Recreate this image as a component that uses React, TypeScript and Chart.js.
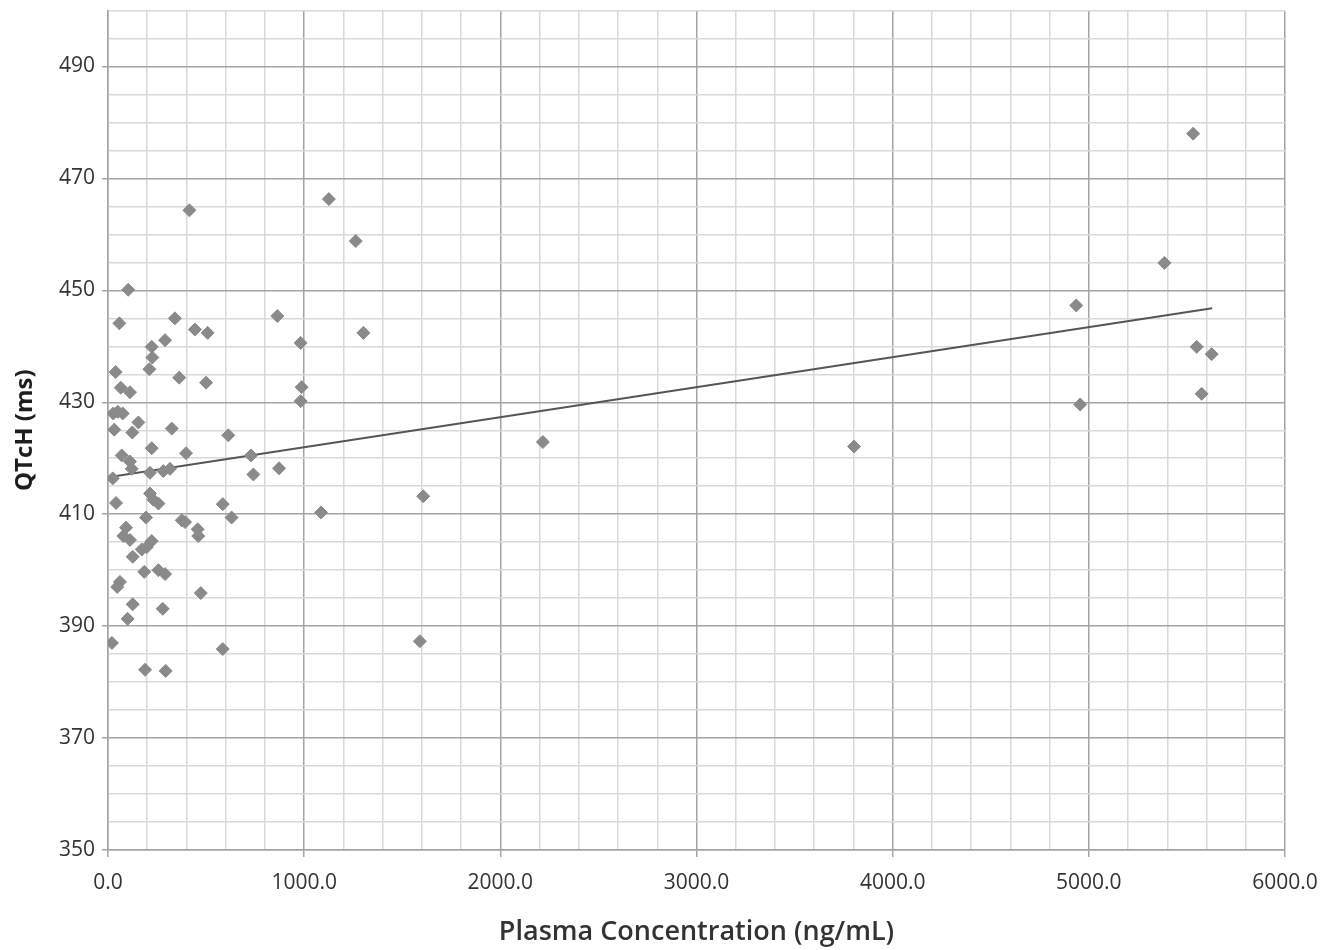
import React, { useEffect, useRef } from 'react';
import { Chart, registerables } from 'chart.js';

Chart.register(...registerables);

// Plasma concentration (ng/mL)
const concentration = [
  20, 24, 41, 32, 39, 58, 103, 341, 443, 508,
  863, 291, 223, 226, 211, 363, 500, 65, 112, 27,
  50, 75, 155, 124, 325, 613, 223, 398, 70, 112,
  121, 729, 741, 872, 214, 282, 316, 214, 231, 257,
  585, 630, 194, 376, 393, 92, 457, 460, 78, 112,
  223, 197, 172, 126, 185, 257, 291, 61, 47, 473,
  126, 279, 100, 585, 189, 294, 415, 982, 987, 982,
  1126, 1263, 1302, 1086, 1590, 1607, 2217, 3803, 5532, 5385,
  4936, 5550, 5626, 5575, 4956,
];

// QTcH (ms)
const qtch = [
  387.0, 416.4, 412.0, 425.1, 435.4, 444.1, 450.1, 445.0, 443.0, 442.4,
  445.4, 441.1, 439.9, 438.0, 435.9, 434.4, 433.5, 432.6, 431.8, 428.0,
  428.3, 428.0, 426.4, 424.6, 425.3, 424.1, 421.8, 420.9, 420.5, 419.4,
  418.1, 420.5, 417.1, 418.2, 417.4, 417.7, 418.1, 413.7, 412.6, 411.9,
  411.8, 409.4, 409.4, 408.9, 408.6, 407.6, 407.3, 406.1, 406.1, 405.4,
  405.2, 404.1, 403.7, 402.4, 399.7, 400.0, 399.3, 397.9, 397.0, 395.9,
  393.9, 393.1, 391.3, 385.9, 382.2, 382.0, 464.3, 440.6, 432.7, 430.2,
  466.3, 458.8, 442.4, 410.3, 387.3, 413.2, 422.9, 422.1, 478.0, 454.9,
  447.3, 439.9, 438.6, 431.5, 429.6,
];

// Linear trend line end points
const trendX = [0, 5629];
const trendY = [416.6, 446.8];

const X_MIN = 0;
const X_MAX = 6000;
const X_MAJOR = 1000;
const X_MINOR = 200;
const Y_MIN = 350;
const Y_MAX = 500;
const Y_MAJOR = 20;
const Y_MINOR = 5;

const MAJOR_GRID = '#a4a4a4';
const MINOR_GRID = '#d9d9d9';
const TEXT = '#333333';

export default function App() {
  const canvasRef = useRef<HTMLCanvasElement | null>(null);

  useEffect(() => {
    if (!canvasRef.current) return;
    const isMajorX = (v: number) => Math.abs(v % X_MAJOR) < 1e-6;
    const isMajorY = (v: number) => Math.abs((v - Y_MIN) % Y_MAJOR) < 1e-6;

    const chart = new Chart(canvasRef.current, {
      type: 'scatter',
      data: {
        datasets: [
          {
            label: 'QTcH',
            data: concentration.map((c, i) => ({ x: c, y: qtch[i] })),
            pointStyle: 'rectRot',
            pointRadius: 6.5,
            backgroundColor: '#8a8a8a',
            borderColor: '#8a8a8a',
            borderWidth: 1,
          },
          {
            label: 'Trend',
            type: 'line',
            data: trendX.map((x, i) => ({ x, y: trendY[i] })),
            borderColor: '#555555',
            borderWidth: 2,
            pointRadius: 0,
            fill: false,
          },
        ],
      },
      options: {
        responsive: true,
        maintainAspectRatio: false,
        animation: false,
        layout: { padding: { top: 2, right: 41, left: 0, bottom: 0 } },
        plugins: {
          legend: { display: false },
          tooltip: { enabled: false },
        },
        scales: {
          x: {
            type: 'linear',
            min: X_MIN,
            max: X_MAX,
            afterFit: (scale: any) => {
              scale.height = 100;
              scale.paddingLeft = 0;
              scale.paddingRight = 0;
            },
            ticks: {
              stepSize: X_MINOR,
              autoSkip: false,
              maxRotation: 0,
              padding: 13,
              color: TEXT,
              font: { family: 'Open Sans', size: 21 },
              callback: (v: any) => (isMajorX(Number(v)) ? Number(v).toFixed(1) : ''),
            },
            grid: {
              color: (ctx: any) => (isMajorX(ctx.tick.value) ? MAJOR_GRID : MINOR_GRID),
              lineWidth: 1.5,
              tickLength: 7,
              tickColor: (ctx: any) => (isMajorX(ctx.tick.value) ? MAJOR_GRID : 'rgba(0,0,0,0)'),
            },
            border: { color: MAJOR_GRID, width: 1.5 },
            title: {
              display: true,
              text: 'Plasma Concentration (ng/mL)',
              color: TEXT,
              font: { family: 'Open Sans', size: 27, weight: '600' },
              padding: { top: 0, bottom: 1 },
            },
          },
          y: {
            type: 'linear',
            min: Y_MIN,
            max: Y_MAX,
            afterFit: (scale: any) => {
              scale.width = 100;
              scale.paddingTop = 0;
              scale.paddingBottom = 0;
            },
            ticks: {
              stepSize: Y_MINOR,
              autoSkip: false,
              padding: 7,
              color: TEXT,
              font: { family: 'Open Sans', size: 21 },
              callback: (v: any) => (isMajorY(Number(v)) && Number(v) < Y_MAX ? String(v) : ''),
            },
            grid: {
              color: (ctx: any) => (isMajorY(ctx.tick.value) ? MAJOR_GRID : MINOR_GRID),
              lineWidth: 1.5,
              tickLength: 6,
              tickColor: (ctx: any) =>
                isMajorY(ctx.tick.value) && ctx.tick.value < Y_MAX ? MAJOR_GRID : 'rgba(0,0,0,0)',
            },
            border: { color: MAJOR_GRID, width: 1.5 },
            title: {
              display: true,
              text: 'QTcH (ms)',
              color: '#1e1e1e',
              font: { family: 'Open Sans', size: 24, weight: 'bold' },
              padding: { top: 3, bottom: 0 },
            },
          },
        },
      },
    });

    return () => {
      chart.destroy();
    };
  }, []);

  return (
    <div style={{ position: 'relative', width: '1318px', height: '947px', marginTop: '-5px' }}>
      <canvas ref={canvasRef} />
    </div>
  );
}
